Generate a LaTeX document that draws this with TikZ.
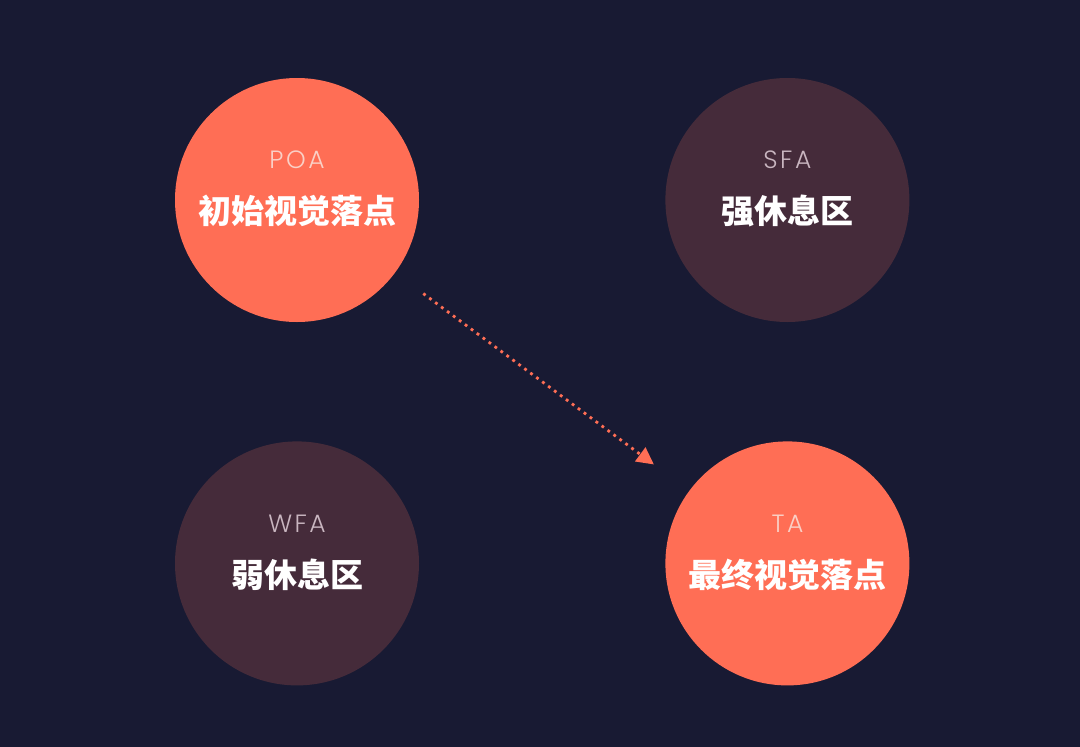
\documentclass[tikz,border=0pt]{standalone}
\usepackage{fontspec}
\usetikzlibrary{arrows.meta,positioning}
\newfontfamily\abbrfont{Poppins}[UprightFont=* Light, LetterSpace=10]
\newfontfamily\cjk{Noto Sans CJK SC}[UprightFont=* Black]
\definecolor{bgnavy}{HTML}{181A33}
\definecolor{coral}{HTML}{FF6E55}
\definecolor{plum}{HTML}{452B3A}
\definecolor{coraltext}{HTML}{FAD0C6}
\definecolor{plumtext}{HTML}{C9B6C0}

\begin{document}
\begin{tikzpicture}[
  x=1pt, y=-1pt,
  node distance=119pt and 246pt,
  zone/.style 2 args={
    circle, minimum size=244pt, inner sep=0pt,
    label={[abbr]center:#1}, label={[title]center:#2}
  },
  hot/.style 2 args={zone={\color{coraltext}#1}{#2}, fill=coral},
  calm/.style 2 args={zone={\color{plumtext}#1}{#2}, fill=plum},
  abbr/.style={font=\abbrfont\fontsize{25}{25}\selectfont, yshift=40pt},
  title/.style={font=\cjk\fontsize{33}{33}\selectfont, text=white, yshift=-11pt},
  flow/.style={-{Triangle[length=17pt,width=17pt]}, coral, line width=2.8pt,
    dash pattern=on 2.8pt off 4.6pt, shorten <=35pt, shorten >=44pt},
]
\useasboundingbox[fill=bgnavy] (0,0) rectangle (1080,747);

% ── Nodes ──
\node[hot={POA}{初始视觉落点}] (poa) at (297,200) {};
\node[calm={SFA}{强休息区}, right=of poa] (sfa) {};
\node[calm={WFA}{弱休息区}, below=of poa] (wfa) {};
\node[hot={TA}{最终视觉落点}, below=of sfa] (ta) {};

% ── Edges ──
\draw[flow] (poa) -- (ta);
\end{tikzpicture}
\end{document}
